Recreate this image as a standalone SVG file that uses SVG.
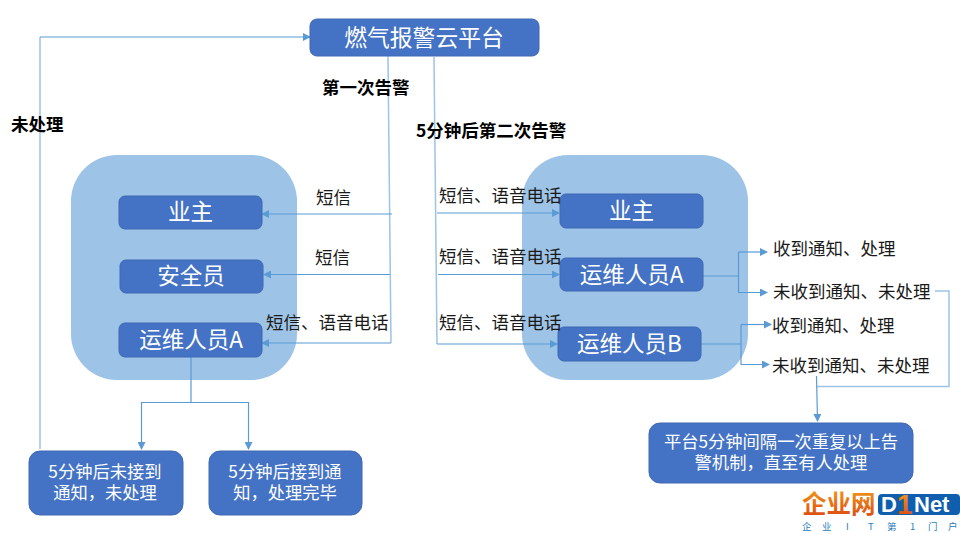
<svg xmlns="http://www.w3.org/2000/svg" width="960" height="533" viewBox="0 0 960 533">
<style>
text{font-family:"Noto Sans CJK SC","Liberation Sans",sans-serif}
.box{fill:#4472c4;stroke:#3f68b3;stroke-width:1}
.t{fill:#fff;text-anchor:middle}
.n{font-size:22.500px}
.s{font-size:17.300px}
.lg{fill:#9dc3e6}
.c{fill:none;stroke:#5b9bd5;stroke-width:1.2}
.c2{fill:none;stroke:#9dc3e6;stroke-width:1.5}
.l{fill:#1a1a1a;font-size:17.500px}
.b{fill:#000;font-size:17.500px;font-weight:700}
</style>
<defs>
<marker id="a" markerWidth="8" markerHeight="8" refX="7" refY="4" orient="auto" markerUnits="userSpaceOnUse"><path d="M0,0L8,4L0,8Z" fill="#5b9bd5"/></marker>
<linearGradient id="og" x1="0" y1="0" x2="0" y2="1"><stop offset="0" stop-color="#f5a21c"/><stop offset="1" stop-color="#d9440f"/></linearGradient>
</defs>
<rect width="960" height="533" fill="#fff"/>
<g id="group-left"><rect class="lg" x="71" y="155" width="226" height="225" rx="46"/></g>
<g id="group-right"><rect class="lg" x="522" y="155" width="226" height="225" rx="46"/></g>
<g id="connectors">
<path class="c2" d="M388,56L391,343"/>
<path class="c2" d="M434,57L437,344"/>
<path class="c2" d="M40,449L40,37"/>
<path class="c" d="M40,37H310" marker-end="url(#a)"/>
<path class="c" d="M392,214H262" marker-end="url(#a)"/>
<path class="c" d="M390,274.500H264" marker-end="url(#a)"/>
<path class="c" d="M391,343H262" marker-end="url(#a)"/>
<path class="c" d="M437,213H559" marker-end="url(#a)"/>
<path class="c" d="M438,274.500H559" marker-end="url(#a)"/>
<path class="c" d="M437,344H557" marker-end="url(#a)"/>
<path class="c" d="M191,357V402.500H141.500V449" marker-end="url(#a)"/>
<path class="c" d="M191,402.500H248.500V449" marker-end="url(#a)"/>
<path class="c" d="M703,276H739"/>
<path class="c" d="M738.500,252V292.500H767" marker-end="url(#a)"/>
<path class="c" d="M738.500,252H767" marker-end="url(#a)"/>
<path class="c" d="M701,344H741"/>
<path class="c" d="M741,324.500V364.500H769" marker-end="url(#a)"/>
<path class="c" d="M741,324.500H771" marker-end="url(#a)"/>
<path class="c2" d="M935,291H949V386.500H817"/>
<path class="c" d="M816.500,376L817.500,421" marker-end="url(#a)"/>
</g>
<g id="n-platform"><rect class="box" x="310" y="19" width="229" height="37" rx="7"/><text class="t" x="424" y="45.500" font-size="22.800">燃气报警云平台</text></g>
<g id="n-owner-l"><rect class="box" x="119" y="196" width="143" height="33" rx="6"/><text class="t n" x="190.500" y="220">业主</text></g>
<g id="n-safety"><rect class="box" x="120" y="260" width="143" height="33" rx="6"/><text class="t n" x="191" y="284">安全员</text></g>
<g id="n-ops-l"><rect class="box" x="119" y="323" width="143" height="34" rx="6"/><text class="t n" x="191" y="348">运维人员A</text></g>
<g id="n-owner-r"><rect class="box" x="560" y="194" width="143" height="34" rx="6"/><text class="t n" x="631.500" y="219">业主</text></g>
<g id="n-ops-a"><rect class="box" x="560" y="258" width="143" height="33" rx="6"/><text class="t n" x="631.500" y="283">运维人员A</text></g>
<g id="n-ops-b"><rect class="box" x="558" y="327" width="143" height="34" rx="6"/><text class="t n" x="629.500" y="352">运维人员B</text></g>
<g id="n-unhandled"><rect class="box" x="29" y="451" width="154" height="64" rx="11"/><text class="t s"><tspan x="105" y="478">5分钟后未接到</tspan><tspan x="105" y="499">通知，未处理</tspan></text></g>
<g id="n-handled"><rect class="box" x="209" y="451" width="153" height="64" rx="11"/><text class="t s"><tspan x="285" y="478">5分钟后接到通</tspan><tspan x="285" y="499">知，处理完毕</tspan></text></g>
<g id="n-repeat"><rect class="box" x="649" y="423" width="264" height="60" rx="11"/><text class="t s"><tspan x="781" y="448">平台5分钟间隔一次重复以上告</tspan><tspan x="781" y="469">警机制，直至有人处理</tspan></text></g>
<g id="labels">
<text class="b" x="322" y="94">第一次告警</text>
<text class="b" x="416" y="137">5分钟后第二次告警</text>
<text class="b" x="11" y="131">未处理</text>
<text class="l" x="316" y="204">短信</text>
<text class="l" x="315" y="264">短信</text>
<text class="l" x="266" y="329">短信、语音电话</text>
<text class="l" x="439" y="202">短信、语音电话</text>
<text class="l" x="439" y="263">短信、语音电话</text>
<text class="l" x="439" y="329">短信、语音电话</text>
<text class="l" x="773" y="255">收到通知、处理</text>
<text class="l" x="773" y="298">未收到通知、未处理</text>
<text class="l" x="772" y="332">收到通知、处理</text>
<text class="l" x="772" y="372">未收到通知、未处理</text>
</g>
<g id="logo">
<text x="802" y="513" font-size="24.500" font-weight="700" fill="url(#og)">企业网</text>
<rect x="878" y="494" width="82" height="21" rx="4" fill="#0f5fae"/>
<text x="881" y="512" font-size="22" font-weight="700" fill="#fff" style="font-family:'Liberation Sans',sans-serif">D</text>
<text x="897" y="514" font-size="28" font-weight="700" fill="url(#og)" style="font-family:'Liberation Sans',sans-serif">1</text>
<text x="914" y="512" font-size="22" font-weight="700" fill="#fff" style="font-family:'Liberation Sans',sans-serif">Net</text>
<text y="530" font-size="9.500" fill="#2b7dbd" x="802 822 846 868 887 910 928 948">企业IT第1门户</text>
</g>
</svg>
